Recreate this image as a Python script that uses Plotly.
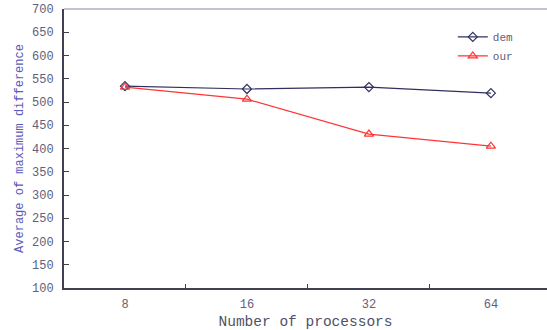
import plotly.graph_objects as go

categories = ["8", "16", "32", "64"]
dem = [534, 528, 532, 519]
our = [532, 506, 431, 405]
y_ticks = [100, 150, 200, 250, 300, 350, 400, 450, 500, 550, 600, 650, 700]

font_family = "Liberation Mono, Courier New, monospace"

fig = go.Figure()
fig.add_trace(go.Scatter(
    x=categories, y=dem, name="dem", mode="lines+markers",
    line=dict(color="#30305e", width=1.2),
    marker=dict(symbol="diamond-open", size=7, color="#30305e", line=dict(width=1.2)),
))
fig.add_trace(go.Scatter(
    x=categories, y=our, name="our", mode="lines+markers",
    line=dict(color="#ff3535", width=1.2),
    marker=dict(symbol="triangle-up-open", size=8, color="#ff3535", line=dict(width=1.2)),
))

fig.update_layout(
    width=547, height=330,
    margin=dict(l=64, r=0, t=9, b=42, autoexpand=False),
    paper_bgcolor="white", plot_bgcolor="white",
    font=dict(family=font_family, size=11, color="#60607a"),
    showlegend=True,
    legend=dict(x=0.805, y=0.952, xanchor="left", yanchor="top",
                bgcolor="rgba(0,0,0,0)", font=dict(size=11, color="#60607a"),
                itemwidth=30, tracegroupgap=0),
    xaxis=dict(
        type="category", range=[-0.5, 3.46], automargin=False,
        showgrid=False, showline=True, linecolor="#404050", linewidth=2,
        ticks="inside", ticklen=4, tickcolor="#404050", tickson="boundaries",
        ticklabelstandoff=4,
        tickfont=dict(size=12, color="#60607a"),
        title=dict(text="Number of processors", font=dict(size=14.5, color="#50506a"), standoff=4),
        zeroline=False,
    ),
    yaxis=dict(
        range=[100, 700], tickvals=y_ticks, automargin=False,
        showgrid=False, showline=True, linecolor="#404050", linewidth=2,
        ticks="inside", ticklen=5, tickcolor="#404050",
        ticklabelstandoff=6,
        tickfont=dict(size=12, color="#60607a"),
        title=dict(text="Average of maximum difference", font=dict(size=12, color="#5a5ab8"), standoff=6),
        zeroline=False,
    ),
    shapes=[dict(type="line", xref="paper", yref="paper", x0=0, x1=1, y0=1, y1=1,
                 line=dict(color="#8888a0", width=1))],
)

fig.write_html("out.html", config={"displayModeBar": False},
               post_script="document.body.style.margin='0';")
